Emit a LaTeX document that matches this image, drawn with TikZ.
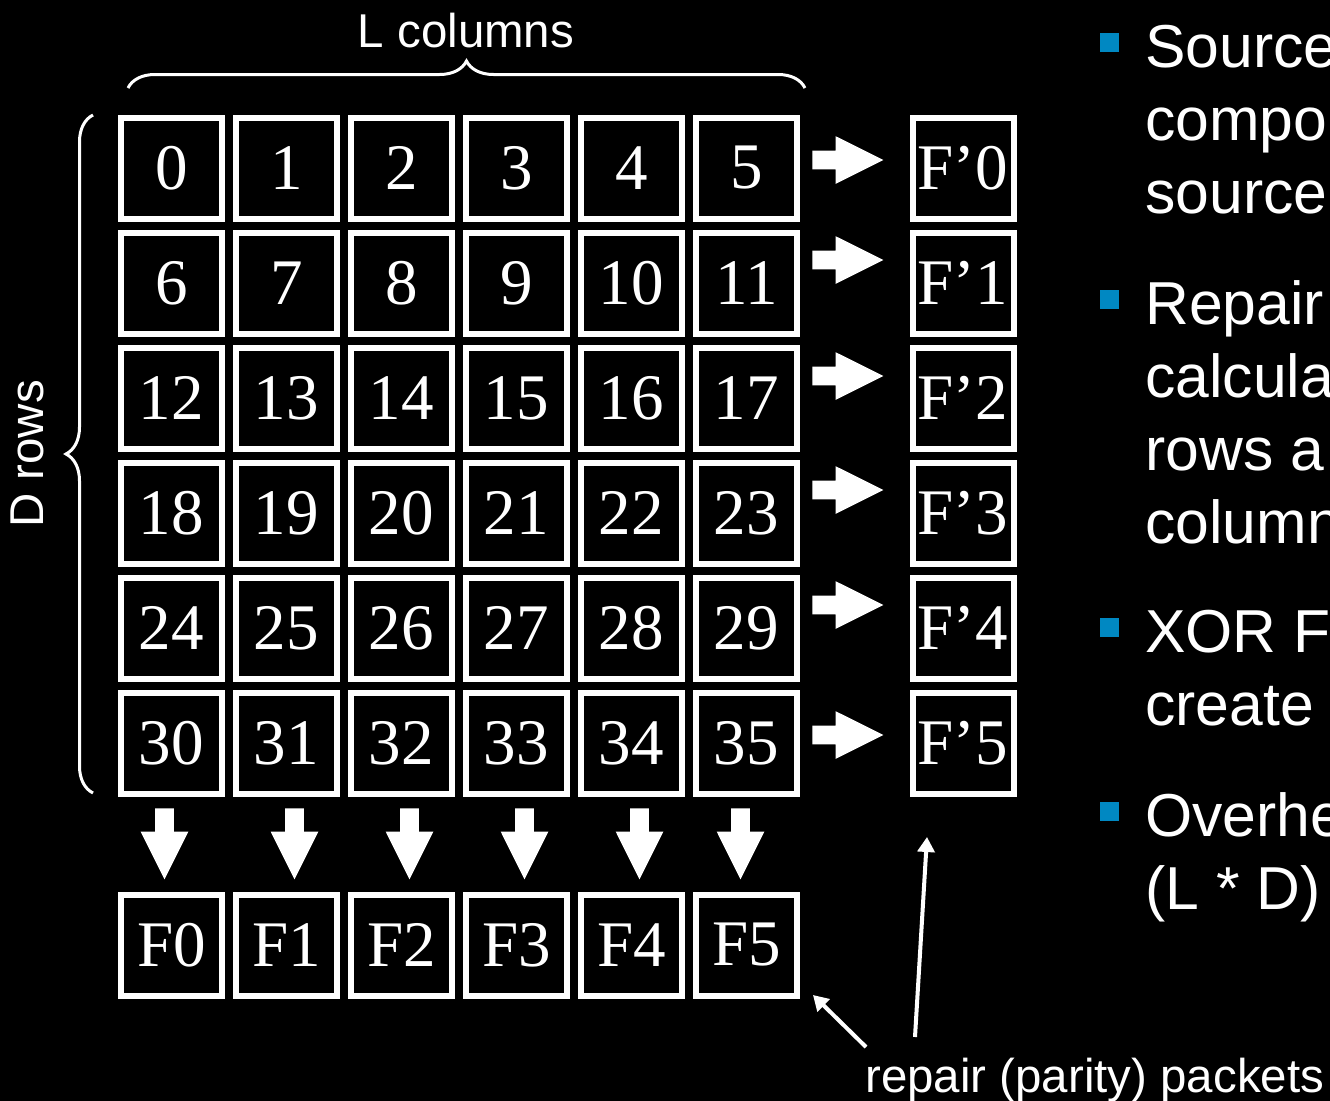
\documentclass[tikz,border=0pt]{standalone}
\usepackage{fontspec}
\setmainfont{Liberation Serif}
\setsansfont{Liberation Sans}
\usetikzlibrary{arrows.meta, shapes.arrows, decorations.pathreplacing}
\definecolor{bulletblue}{HTML}{0088C2}

\begin{document}
\begin{tikzpicture}[
  cell/.style={rectangle, draw=white, line width=1.2mm, minimum size=20.2mm,
               inner sep=0pt, text=white, font=\fontsize{37}{40}\selectfont},
  rarrow/.style={single arrow, fill=white, draw=none, inner xsep=0pt, inner ysep=1.8mm,
                 minimum height=14.2mm, minimum width=9.4mm,
                 single arrow head extend=2.9mm, single arrow tip angle=53},
  darrow/.style={rarrow, inner xsep=1.8mm, inner ysep=0pt, shape border rotate=270},
  dimtext/.style={text=white, inner sep=0pt, font=\sffamily\fontsize{27}{32}\selectfont},
  curly/.style={draw=white, line width=0.6mm, decorate, decoration={brace, amplitude=5.4mm}},
  pointer/.style={draw=white, line width=0.8mm, -{Triangle[length=3mm, width=3.4mm]}},
  bulletbox/.style={fill=bulletblue, minimum size=3.8mm, inner sep=0pt},
  btext/.style={text=white, anchor=base west, inner sep=0pt,
                font=\sffamily\fontsize{34.5}{41.5}\selectfont},
]

\fill[black] (0,0) rectangle (26.6,-22.02);
\useasboundingbox (0,0) rectangle (26.6,-22.02);

% source block, D rows x L columns
\node[cell] (b0) at (3.43, -3.36) {0};
\node[cell] (b1) at (5.73, -3.36) {1};
\node[cell] (b2) at (8.03, -3.36) {2};
\node[cell] (b3) at (10.33, -3.36) {3};
\node[cell] (b4) at (12.63, -3.36) {4};
\node[cell] (b5) at (14.93, -3.36) {5};
\node[cell] (b6) at (3.43, -5.66) {6};
\node[cell] (b7) at (5.73, -5.66) {7};
\node[cell] (b8) at (8.03, -5.66) {8};
\node[cell] (b9) at (10.33, -5.66) {9};
\node[cell] (b10) at (12.63, -5.66) {10};
\node[cell] (b11) at (14.93, -5.66) {11};
\node[cell] (b12) at (3.43, -7.96) {12};
\node[cell] (b13) at (5.73, -7.96) {13};
\node[cell] (b14) at (8.03, -7.96) {14};
\node[cell] (b15) at (10.33, -7.96) {15};
\node[cell] (b16) at (12.63, -7.96) {16};
\node[cell] (b17) at (14.93, -7.96) {17};
\node[cell] (b18) at (3.43, -10.26) {18};
\node[cell] (b19) at (5.73, -10.26) {19};
\node[cell] (b20) at (8.03, -10.26) {20};
\node[cell] (b21) at (10.33, -10.26) {21};
\node[cell] (b22) at (12.63, -10.26) {22};
\node[cell] (b23) at (14.93, -10.26) {23};
\node[cell] (b24) at (3.43, -12.56) {24};
\node[cell] (b25) at (5.73, -12.56) {25};
\node[cell] (b26) at (8.03, -12.56) {26};
\node[cell] (b27) at (10.33, -12.56) {27};
\node[cell] (b28) at (12.63, -12.56) {28};
\node[cell] (b29) at (14.93, -12.56) {29};
\node[cell] (b30) at (3.43, -14.86) {30};
\node[cell] (b31) at (5.73, -14.86) {31};
\node[cell] (b32) at (8.03, -14.86) {32};
\node[cell] (b33) at (10.33, -14.86) {33};
\node[cell] (b34) at (12.63, -14.86) {34};
\node[cell] (b35) at (14.93, -14.86) {35};

% row parity
\node[cell] (fp0) at (19.26, -3.36) {F’0};
\node[cell] (fp1) at (19.26, -5.66) {F’1};
\node[cell] (fp2) at (19.26, -7.96) {F’2};
\node[cell] (fp3) at (19.26, -10.26) {F’3};
\node[cell] (fp4) at (19.26, -12.56) {F’4};
\node[cell] (fp5) at (19.26, -14.86) {F’5};

% column parity
\node[cell] (f0) at (3.43, -18.90) {F0};
\node[cell] (f1) at (5.73, -18.90) {F1};
\node[cell] (f2) at (8.03, -18.90) {F2};
\node[cell] (f3) at (10.33, -18.90) {F3};
\node[cell] (f4) at (12.63, -18.90) {F4};
\node[cell] (f5) at (14.93, -18.90) {F5};

\node[rarrow] (r0) at (16.77, -3.20) {};
\node[rarrow] (r1) at (16.77, -5.20) {};
\node[rarrow] (r2) at (16.77, -7.52) {};
\node[rarrow] (r3) at (16.77, -9.80) {};
\node[rarrow] (r4) at (16.77, -12.10) {};
\node[rarrow] (r5) at (16.77, -14.70) {};

\node[darrow] (d0) at (3.29, -16.69) {};
\node[darrow] (d1) at (5.89, -16.69) {};
\node[darrow] (d2) at (8.19, -16.69) {};
\node[darrow] (d3) at (10.49, -16.69) {};
\node[darrow] (d4) at (12.79, -16.69) {};
\node[darrow] (d5) at (14.81, -16.69) {};

% braces and their labels
\draw[curly] (2.56, -1.76) -- (16.10, -1.76);
\draw[curly] (1.86, -15.86) -- (1.86, -2.30);
\node[dimtext, anchor=base] (lcols) at (9.32, -0.94) {L columns};
\node[dimtext, rotate=90] (drows) at (0.54, -9.08) {D rows};

% repair packets callout
\node[dimtext, anchor=base west] (repair) at (17.30, -21.84) {repair (parity) packets};
\coordinate (tailA) at (17.32, -20.94);
\coordinate (tipA) at (16.26, -19.90);
\coordinate (tailB) at (18.30, -20.74);
\coordinate (tipB) at (18.54, -16.74);
\draw[pointer] (tailA) -- (tipA);
\draw[pointer] (tailB) -- (tipB);

% bullet list (runs off the right edge)
\node[bulletbox] (m1) at (22.19, -0.85) {};
\node[bulletbox] (m2) at (22.19, -5.99) {};
\node[bulletbox] (m3) at (22.19, -12.55) {};
\node[bulletbox] (m4) at (22.19, -16.23) {};
\node[btext] (s1) at (22.90, -1.34) {Source};
\node[btext] (s2) at (22.90, -2.80) {compo};
\node[btext] (s3) at (22.90, -4.26) {source};
\node[btext] (s4) at (22.90, -6.48) {Repair};
\node[btext] (s5) at (22.90, -7.94) {calcula};
\node[btext] (s6) at (22.90, -9.40) {rows a};
\node[btext] (s7) at (22.90, -10.86) {column};
\node[btext] (s8) at (22.90, -13.04) {XOR F};
\node[btext] (s9) at (22.90, -14.50) {create};
\node[btext] (s10) at (22.90, -16.72) {Overhe};
\node[btext] (s11) at (22.90, -18.18) {(L * D)};

\end{tikzpicture}
\end{document}
